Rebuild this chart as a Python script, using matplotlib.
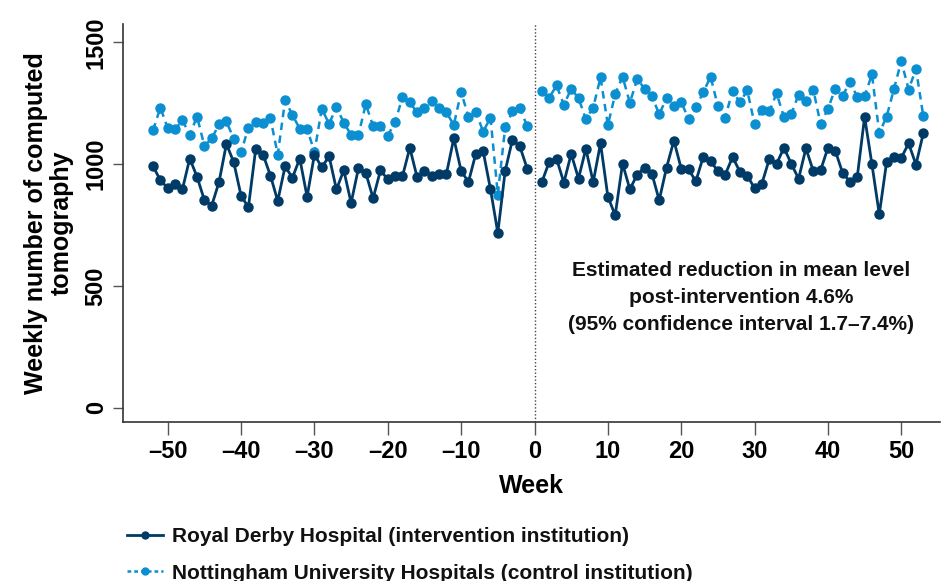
import matplotlib
matplotlib.use("Agg")
import matplotlib.pyplot as plt
from matplotlib.lines import Line2D

plt.rcParams['font.family'] = ['Liberation Sans', 'DejaVu Sans']
plt.rcParams['font.weight'] = 'bold'

# weeks relative to the intervention (week 0)
weeks_pre = list(range(-52, 0))
weeks_post = list(range(1, 54))

derby_pre = [991, 934, 902, 919, 896, 1023, 948, 852, 830, 927,
             1083, 1008, 870, 823, 1063, 1039, 953, 849, 991, 944,
             1023, 866, 1039, 987, 1032, 896, 975, 841, 983, 964,
             860, 974, 938, 950, 950, 1067, 946, 971, 953, 961,
             961, 1106, 972, 927, 1043, 1053, 897, 718, 972, 1101,
             1073, 982]
derby_post = [926, 1009, 1023, 924, 1042, 941, 1063, 926, 1086, 867,
              790, 1002, 897, 957, 986, 961, 852, 986, 1096, 982,
              978, 930, 1030, 1012, 972, 957, 1029, 969, 953, 901,
              920, 1020, 1001, 1067, 1002, 940, 1065, 972, 975, 1067,
              1055, 964, 928, 948, 1194, 999, 794, 1009, 1030, 1026,
              1085, 998, 1126]

nott_pre = [1139, 1232, 1147, 1143, 1180, 1121, 1195, 1075, 1106, 1163,
            1175, 1104, 1049, 1150, 1174, 1168, 1188, 1039, 1262, 1202,
            1145, 1145, 1050, 1227, 1165, 1235, 1170, 1120, 1120, 1246,
            1156, 1158, 1117, 1172, 1275, 1253, 1212, 1231, 1257, 1232,
            1212, 1161, 1297, 1193, 1215, 1133, 1191, 875, 1151, 1217,
            1229, 1157]
nott_post = [1300, 1272, 1323, 1243, 1309, 1271, 1184, 1232, 1356, 1160,
             1287, 1359, 1252, 1349, 1310, 1280, 1204, 1272, 1238, 1256,
             1184, 1236, 1294, 1359, 1238, 1191, 1302, 1253, 1303, 1164,
             1224, 1216, 1290, 1194, 1205, 1285, 1258, 1306, 1164, 1227,
             1309, 1279, 1339, 1275, 1279, 1368, 1127, 1195, 1308, 1423,
             1306, 1391, 1197]

x_ticks = [-50, -40, -30, -20, -10, 0, 10, 20, 30, 40, 50]
y_ticks = [0, 500, 1000, 1500]

DARK = "#003a66"
LIGHT = "#0b8fd0"

fig = plt.figure(figsize=(9.43, 5.81), dpi=100)
ax = fig.add_axes([0.1304, 0.2737, 0.8666, 0.685])

for wk, vals in [(weeks_pre, nott_pre), (weeks_post, nott_post)]:
    ax.plot(wk, vals, color=LIGHT, lw=1.8, ls=(0, (3, 2.2)),
            marker="o", ms=6.5, mec=LIGHT, mfc=LIGHT)
for wk, vals in [(weeks_pre, derby_pre), (weeks_post, derby_post)]:
    ax.plot(wk, vals, color=DARK, lw=2.0, ls="-",
            marker="o", ms=6.5, mec=DARK, mfc=DARK)

ax.axvline(0, color="#444444", lw=1.0, ls=(0, (1, 1.5)))

ax.set_xlim(-56.1, 55.3)
ax.set_ylim(-58, 1575)
ax.set_xticks(x_ticks)
ax.set_xticklabels([f"\u2013{abs(t)}" if t < 0 else str(t) for t in x_ticks],
                   fontsize=17, fontweight="bold")
ax.set_yticks(y_ticks)
ax.set_yticklabels([str(t) for t in y_ticks], fontsize=17, fontweight="bold",
                   rotation=90, va="center")
ax.tick_params(axis="x", length=9, width=1, color="#555555", pad=4)
ax.tick_params(axis="y", length=7, width=1, color="#555555", pad=4)
for s in ["top", "right"]:
    ax.spines[s].set_visible(False)
for s in ["left", "bottom"]:
    ax.spines[s].set_color("#333333")
    ax.spines[s].set_linewidth(1.2)

ax.set_xlabel("Week", fontsize=18, fontweight="bold", labelpad=8)
ax.set_ylabel("Weekly number of computed\ntomography", fontsize=18,
              fontweight="bold", labelpad=8, linespacing=1.1)

ax.text(28.2, 452,
        "Estimated reduction in mean level\npost-intervention 4.6%\n(95% confidence interval 1.7\u20137.4%)",
        ha="center", va="center", fontsize=15, fontweight="bold",
        linespacing=1.55, color="#111111")

h1 = Line2D([], [], color=DARK, lw=2.0, marker="o", ms=5, markevery=[1])
h2 = Line2D([], [], color=LIGHT, lw=1.8, ls=(0, (1.5, 1.2)), marker="o", ms=5,
            markevery=[1])
leg = fig.legend([h1, h2],
                 ["Royal Derby Hospital (intervention institution)",
                  "Nottingham University Hospitals (control institution)"],
                 loc="lower left", bbox_to_anchor=(0.115, -0.035), frameon=False,
                 fontsize=15, handlelength=1.7, handletextpad=0.45,
                 labelspacing=0.85)
for t in leg.get_texts():
    t.set_fontweight("bold")
    t.set_color("#111111")

fig.savefig("out.png", dpi=100)
